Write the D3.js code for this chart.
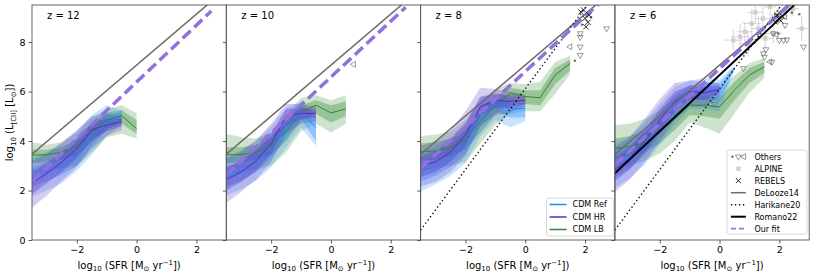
<!DOCTYPE html>
<html>
<head>
<meta charset="utf-8">
<script src="https://cdn.jsdelivr.net/npm/d3@7"></script>
<style>
  body { margin: 0; background: #fff; }
  text { font-family: "DejaVu Sans", sans-serif; fill: #000; }
</style>
</head>
<body>
<svg id="chart" width="830" height="277"></svg>
<script>
// Four-panel [CII]-SFR relation: simulations (bands + medians), literature fits and observations.

const redshifts = [12, 10, 8, 6];
const simNames = ['CDM Ref', 'CDM HR', 'CDM LB'];
const xTicks = [-2, 0, 2];
const yTicks = [0, 2, 4, 6, 8];

// rows: [log SFR, median, p16, p84, p5, p95]
const z12_ref = [[-3.5, 2.50, 2.15, 2.90, 1.75, 3.30], [-3.0, 2.75, 2.40, 3.15, 2.00, 3.55], [-2.5, 3.00, 2.65, 3.45, 2.30, 3.90], [-2.0, 3.40, 3.00, 3.95, 2.80, 4.40], [-1.5, 4.30, 3.80, 4.70, 3.45, 5.05], [-1.0, 4.75, 4.45, 5.05, 4.20, 5.45], [-0.5, 5.00, 4.80, 5.15, 4.65, 5.25]];
const z12_hr = [[-3.5, 2.30, 1.85, 2.75, 1.30, 3.20], [-3.0, 2.70, 2.30, 3.10, 1.80, 3.50], [-2.5, 3.15, 2.75, 3.55, 2.40, 3.95], [-2.0, 3.70, 3.30, 4.10, 2.95, 4.45], [-1.5, 4.45, 4.05, 4.75, 3.70, 5.00], [-1.0, 4.65, 4.40, 4.90, 4.20, 5.10], [-0.5, 4.78, 4.60, 4.90, 4.45, 5.00]];
const z12_lb = [[-3.5, 3.43, 3.10, 3.65, 2.70, 3.95], [-3.0, 3.45, 3.15, 3.65, 2.75, 3.85], [-2.5, 3.55, 3.25, 3.75, 2.90, 3.95], [-2.0, 3.80, 3.45, 4.05, 3.00, 4.35], [-1.5, 4.35, 3.95, 4.70, 3.55, 4.95], [-1.0, 4.85, 4.50, 5.15, 4.15, 5.30], [-0.5, 5.03, 4.70, 5.25, 4.30, 5.45], [0.0, 4.50, 4.30, 4.85, 4.10, 5.12]];

const z10_ref = [[-3.5, 2.55, 2.15, 2.95, 1.80, 3.35], [-3.0, 2.80, 2.40, 3.20, 2.05, 3.60], [-2.5, 3.15, 2.75, 3.60, 2.40, 4.00], [-2.0, 3.70, 3.30, 4.15, 2.95, 4.60], [-1.5, 4.50, 4.10, 4.95, 3.75, 5.35], [-1.0, 5.18, 4.90, 5.40, 4.55, 5.60], [-0.5, 4.55, 4.00, 5.00, 3.80, 5.10]];
const z10_hr = [[-3.5, 2.45, 2.00, 2.90, 1.50, 3.30], [-3.0, 2.75, 2.35, 3.20, 1.95, 3.60], [-2.5, 3.20, 2.80, 3.65, 2.45, 4.05], [-2.0, 3.90, 3.50, 4.30, 3.15, 4.70], [-1.5, 5.00, 4.60, 5.30, 4.30, 5.50], [-1.0, 5.12, 4.90, 5.35, 4.70, 5.50], [-0.5, 5.12, 4.95, 5.30, 4.80, 5.40]];
const z10_lb = [[-3.5, 3.45, 3.10, 3.75, 2.60, 4.30], [-3.0, 3.45, 3.15, 3.75, 2.70, 4.15], [-2.5, 3.55, 3.25, 3.85, 2.85, 4.10], [-2.0, 3.82, 3.45, 4.15, 3.00, 4.35], [-1.5, 4.40, 4.00, 4.75, 3.55, 5.00], [-1.0, 5.18, 4.80, 5.45, 4.40, 5.75], [-0.5, 5.45, 5.10, 5.65, 4.70, 5.85], [0.0, 5.14, 4.75, 5.45, 4.35, 5.65], [0.5, 5.30, 5.00, 5.60, 4.70, 5.85]];

const z8_ref = [[-3.5, 2.75, 2.35, 3.15, 1.95, 3.55], [-3.0, 3.00, 2.60, 3.40, 2.25, 3.80], [-2.5, 3.35, 2.95, 3.75, 2.60, 4.15], [-2.0, 3.90, 3.50, 4.35, 3.10, 4.75], [-1.5, 5.00, 4.60, 5.40, 4.20, 5.75], [-1.0, 5.50, 5.20, 5.75, 4.85, 5.95], [-0.5, 5.30, 4.95, 5.55, 4.55, 5.75], [0.0, 5.32, 4.95, 5.55, 4.80, 5.60]];
const z8_hr = [[-3.5, 3.00, 2.55, 3.40, 2.15, 3.80], [-3.0, 3.15, 2.75, 3.60, 2.35, 4.00], [-2.5, 3.55, 3.15, 4.00, 2.75, 4.45], [-2.0, 4.25, 3.80, 4.70, 3.40, 5.20], [-1.5, 5.40, 5.00, 5.80, 4.60, 6.15], [-1.0, 5.65, 5.35, 5.90, 5.05, 6.10], [-0.5, 5.60, 5.35, 5.85, 5.15, 6.00], [0.0, 5.65, 5.50, 5.80, 5.40, 5.90]];
const z8_lb = [[-3.5, 3.57, 3.20, 3.90, 2.80, 4.20], [-3.0, 3.60, 3.25, 3.95, 2.90, 4.25], [-2.5, 3.75, 3.40, 4.10, 3.00, 4.40], [-2.0, 4.05, 3.65, 4.45, 3.15, 4.85], [-1.5, 4.80, 4.35, 5.20, 3.90, 5.55], [-1.0, 5.45, 5.05, 5.80, 4.65, 6.10], [-0.5, 5.93, 5.55, 6.15, 5.10, 6.35], [0.0, 5.80, 5.50, 6.05, 5.20, 6.30], [0.5, 5.75, 5.45, 6.05, 5.20, 6.40], [1.0, 6.67, 6.30, 6.95, 5.90, 7.20], [1.5, 7.14, 6.85, 7.30, 6.70, 7.45]];

const z6_ref = [[-3.5, 3.00, 2.55, 3.45, 2.10, 3.90], [-3.0, 3.35, 2.90, 3.80, 2.50, 4.20], [-2.5, 3.90, 3.45, 4.35, 3.05, 4.75], [-2.0, 4.70, 4.25, 5.10, 3.85, 5.50], [-1.5, 5.45, 5.05, 5.85, 4.65, 6.20], [-1.0, 5.99, 5.65, 6.25, 5.30, 6.45], [-0.5, 6.06, 5.70, 6.35, 5.30, 6.55], [0.0, 6.06, 5.60, 6.35, 5.20, 6.50], [0.5, 6.94, 6.90, 7.00, 6.85, 7.05]];
const z6_hr = [[-3.5, 2.85, 2.40, 3.30, 1.95, 3.75], [-3.0, 3.30, 2.85, 3.75, 2.45, 4.15], [-2.5, 4.00, 3.55, 4.45, 3.15, 4.90], [-2.0, 4.85, 4.40, 5.30, 4.00, 5.70], [-1.5, 5.60, 5.20, 6.00, 4.85, 6.35], [-1.0, 6.00, 5.70, 6.25, 5.40, 6.45], [-0.5, 5.95, 5.65, 6.20, 5.40, 6.40], [0.0, 6.10, 5.95, 6.25, 5.80, 6.35]];
const z6_lb = [[-3.5, 3.70, 3.30, 4.10, 2.90, 4.65], [-3.0, 3.78, 3.40, 4.20, 3.00, 4.70], [-2.5, 3.95, 3.55, 4.40, 3.20, 4.90], [-2.0, 4.35, 3.90, 4.80, 3.50, 5.25], [-1.5, 4.90, 4.45, 5.35, 4.00, 5.75], [-1.0, 5.45, 5.05, 5.80, 4.75, 6.05], [-0.5, 5.45, 5.00, 5.80, 4.55, 6.05], [0.0, 5.38, 4.90, 5.75, 4.30, 6.05], [0.5, 6.06, 5.65, 6.40, 5.10, 6.65], [1.0, 6.67, 6.35, 6.95, 5.95, 7.15], [1.5, 7.00, 6.75, 7.20, 6.55, 7.35]];

// literature relations (end points)
const deLooze14 = [[-3.5, 3.465], [3.0, 10.16]];
const harikane20 = [[-3.5, 0.4], [2.2, 9.7]];
const romano22 = [[-3.5, 2.7], [2.5, 9.5]];
const fitZ12 = [[-3.5, 2.36], [2.5, 9.26]];
const fitZ10 = [[-3.5, 2.63], [2.5, 9.41]];
const fitZ8 = [[-3.5, 2.90], [2.5, 9.60]];
const fitZ6 = [[-3.5, 3.05], [2.5, 9.70]];

// observations
const rebelsZ8 = [[1.86, 9.22], [2.0, 8.96], [2.03, 8.62], [2.14, 9.09], [1.95, 9.30], [2.10, 8.80]];
const othersDotZ8 = [[1.66, 7.25], [2.20, 9.00], [1.90, 8.70]];
const othersDownZ8 = [[2.72, 8.55], [1.84, 8.35], [1.84, 8.20], [1.84, 7.81], [1.84, 7.47]];
const othersLeftZ8 = [[1.50, 7.81]];
const othersLeftZ10 = [[0.76, 7.10]];

// ALPINE rows: [x, y, xerr, yerr]
const alpineZ6 = [[0.46, 8.08, 0.3, 0.4], [0.69, 8.22, 0.3, 0.5], [0.85, 8.42, 0.25, 0.4], [1.08, 8.75, 0.3, 0.6], [1.30, 8.55, 0.25, 0.5], [1.53, 8.15, 0.3, 0.4], [1.69, 9.43, 0.2, 0.5], [1.80, 8.35, 0.3, 0.4], [1.97, 9.09, 0.25, 0.3], [2.20, 9.22, 0.3, 0.3], [2.75, 8.55, 0.2, 0.5], [1.45, 8.95, 0.3, 0.5], [0.95, 7.95, 0.3, 0.5], [2.45, 9.35, 0.2, 0.3], [1.20, 9.20, 0.25, 0.5]];
const rebelsZ6 = [[1.97, 8.96], [1.86, 8.82], [2.05, 8.86], [1.92, 9.10], [2.10, 9.05]];
const othersDotZ6 = [[2.42, 9.19], [2.67, 9.13], [1.97, 8.35]];
const othersDownZ6 = [[-0.17, 5.49], [0.80, 6.94], [1.47, 7.54], [1.50, 7.40], [1.75, 7.20], [2.14, 8.08], [2.00, 8.08], [2.25, 8.10], [1.80, 8.35], [2.81, 7.81], [2.19, 8.69], [1.55, 7.70]];
const othersLeftZ6 = [[1.69, 7.20], [2.19, 9.02], [1.90, 8.30]];

const simColors = ['#1f88ff', '#5b2cc0', '#2f882f'];
const fitColor = '#9370db';
const obsGrey = '#6e6e6e';

const panelData = {
  12: { sims: [z12_ref, z12_hr, z12_lb], fit: fitZ12 },
  10: { sims: [z10_ref, z10_hr, z10_lb], fit: fitZ10 },
  8: { sims: [z8_ref, z8_hr, z8_lb], fit: fitZ8 },
  6: { sims: [z6_ref, z6_hr, z6_lb], fit: fitZ6 },
};

const svg = d3.select('#chart');
const left0 = 32, top0 = 5, panelW = 194.3, panelH = 235;

const x = d3.scaleLinear().domain([-3.5, 3]).range([0, panelW]);
const y = d3.scaleLinear().domain([0, 9.5]).range([panelH, 0]);
const line = d3.line().x((d) => x(d[0])).y((d) => y(d[1]));
const band = (lo, hi) => d3.area().x((d) => x(d[0])).y0((d) => y(d[lo])).y1((d) => y(d[hi]));

// small marker helpers
const tri = d3.symbol().type(d3.symbolTriangle).size(15)();
function drawObs(g, pts, kind) {
  const sel = g.append('g').selectAll('path').data(pts).join('path')
    .attr('transform', (d) => {
      const rot = kind === 'down' ? 180 : kind === 'left' ? -90 : 0;
      return `translate(${x(d[0])},${y(d[1])}) rotate(${rot})`;
    });
  if (kind === 'dot') {
    sel.attr('d', d3.symbol().type(d3.symbolCircle).size(5)()).attr('fill', obsGrey);
  } else if (kind === 'cross') {
    sel.attr('d', 'M-2.6,-2.6L2.6,2.6M-2.6,2.6L2.6,-2.6').attr('stroke', '#111').attr('stroke-width', 0.9).attr('fill', 'none');
  } else {
    sel.attr('d', tri).attr('fill', 'none').attr('stroke', obsGrey).attr('stroke-width', 0.7);
  }
}

function subText(t, parts, size) {
  // parts: [text, 'sub'|'sup'|null]
  parts.forEach(([s, kind], i) => {
    const prev = i > 0 ? parts[i - 1][1] : null;
    let dy = 0;
    if (kind === 'sub') dy = size * 0.25;
    else if (kind === 'sup') dy = -size * 0.38;
    if (prev === 'sub') dy -= size * 0.25;
    else if (prev === 'sup') dy += size * 0.38;
    t.append('tspan')
      .attr('dy', dy)
      .style('font-size', kind ? `${size * 0.7}px` : `${size}px`)
      .text(s);
  });
}

redshifts.forEach((z, i) => {
  const ox = left0 + i * panelW;
  const g = svg.append('g').attr('transform', `translate(${ox},${top0})`);
  const { sims, fit } = panelData[z];

  g.append('clipPath').attr('id', `clip${i}`)
    .append('rect').attr('width', panelW).attr('height', panelH);
  const plot = g.append('g').attr('clip-path', `url(#clip${i})`);

  // bands: LB first, then Ref, then HR
  [2, 0, 1].forEach((s) => {
    plot.append('path').datum(sims[s]).attr('d', band(4, 5))
      .attr('fill', simColors[s]).attr('fill-opacity', 0.24);
    plot.append('path').datum(sims[s]).attr('d', band(2, 3))
      .attr('fill', simColors[s]).attr('fill-opacity', 0.34);
  });
  [2, 0, 1].forEach((s) => {
    plot.append('path').datum(sims[s]).attr('d', line)
      .attr('fill', 'none').attr('stroke', simColors[s]).attr('stroke-width', 1);
  });

  // ALPINE
  if (z === 6) {
    const a = plot.append('g');
    alpineZ6.forEach((d) => {
      a.append('line').attr('x1', x(d[0])).attr('x2', x(d[0]))
        .attr('y1', y(d[1] - d[3])).attr('y2', y(d[1] + d[3]))
        .attr('stroke', '#d4d4d4').attr('stroke-width', 1);
      a.append('line').attr('x1', x(d[0] - d[2])).attr('x2', x(d[0] + d[2]))
        .attr('y1', y(d[1])).attr('y2', y(d[1]))
        .attr('stroke', '#d4d4d4').attr('stroke-width', 1);
    });
    a.selectAll('rect').data(alpineZ6).join('rect')
      .attr('x', (d) => x(d[0]) - 2.2).attr('y', (d) => y(d[1]) - 2.2)
      .attr('width', 4.4).attr('height', 4.4).attr('fill', '#cfcfcf');
  }

  // literature relations
  plot.append('path').datum(deLooze14).attr('d', line)
    .attr('stroke', '#6b6b6b').attr('stroke-width', 1.5).attr('fill', 'none');
  if (z === 8 || z === 6) {
    plot.append('path').datum(harikane20).attr('d', line)
      .attr('stroke', '#111').attr('stroke-width', 1.4).attr('stroke-dasharray', '1.4,2.6').attr('fill', 'none');
  }
  if (z === 6) {
    plot.append('path').datum(romano22).attr('d', line)
      .attr('stroke', '#000').attr('stroke-width', 2).attr('fill', 'none');
  }
  plot.append('path').datum(fit).attr('d', line)
    .attr('stroke', fitColor).attr('stroke-width', 3.5).attr('stroke-dasharray', '11,5').attr('fill', 'none');

  // observations
  if (z === 10) drawObs(plot, othersLeftZ10, 'left');
  if (z === 8) {
    drawObs(plot, othersDownZ8, 'down');
    drawObs(plot, othersLeftZ8, 'left');
    drawObs(plot, othersDotZ8, 'dot');
    drawObs(plot, rebelsZ8, 'cross');
  }
  if (z === 6) {
    drawObs(plot, othersDownZ6, 'down');
    drawObs(plot, othersLeftZ6, 'left');
    drawObs(plot, othersDotZ6, 'dot');
    drawObs(plot, rebelsZ6, 'cross');
  }

  // frame
  g.append('rect').attr('width', panelW).attr('height', panelH)
    .attr('fill', 'none').attr('stroke', '#555').attr('stroke-width', 0.9);

  // axes
  const yAxis = d3.axisLeft(y).tickValues(yTicks).tickSize(3.5).tickPadding(3)
    .tickFormat(i === 0 ? d3.format('d') : () => '');
  g.append('g').call(yAxis).call((a) => {
    a.select('.domain').remove();
    a.selectAll('.tick line').attr('stroke', '#333').attr('stroke-width', 0.8);
    a.selectAll('.tick text').style('font-size', '9.5px').attr('font-family', null);
  });
  const xAxis = d3.axisBottom(x).tickValues(xTicks).tickSize(3.5).tickPadding(2.5).tickFormat(d3.format('d'));
  g.append('g').attr('transform', `translate(0,${panelH})`).call(xAxis).call((a) => {
    a.select('.domain').remove();
    a.selectAll('.tick line').attr('stroke', '#333').attr('stroke-width', 0.8);
    a.selectAll('.tick text').style('font-size', '9.5px').attr('font-family', null);
  });

  // panel label
  g.append('text').attr('x', 15).attr('y', 14).style('font-size', '10px').text(`z = ${z}`);

  // x label
  const xl = g.append('text').attr('x', panelW / 2).attr('y', 263.5).attr('text-anchor', 'middle');
  subText(xl, [['log', null], ['10', 'sub'], [' (SFR [M', null], ['⊙', 'sub'], [' yr', null], ['−1', 'sup'], ['])', null]], 10);
});

// y label
const yl = svg.append('text').attr('transform', `translate(13,${top0 + panelH / 2}) rotate(-90)`).attr('text-anchor', 'middle');
subText(yl, [['log', null], ['10', 'sub'], [' (L', null], ['[CII]', 'sub'], [' [L', null], ['⊙', 'sub'], ['])', null]], 10);

// legend, panel z = 8
const lg1 = svg.append('g').attr('transform', `translate(${left0 + 2 * panelW + 126},198)`);
lg1.append('rect').attr('width', 67).attr('height', 38).attr('rx', 2)
  .attr('fill', '#fff').attr('fill-opacity', 0.85).attr('stroke', '#cfcfcf').attr('stroke-width', 0.8);
simNames.forEach((name, k) => {
  const yy = 6.5 + k * 12.5;
  lg1.append('line').attr('x1', 3).attr('x2', 20).attr('y1', yy).attr('y2', yy)
    .attr('stroke', simColors[k]).attr('stroke-width', 1.5);
  lg1.append('text').attr('x', 26).attr('y', yy).attr('dy', '0.35em').style('font-size', '8px').text(name);
});

// legend, panel z = 6
const lg2 = svg.append('g').attr('transform', `translate(${left0 + 3 * panelW + 112},150)`);
lg2.append('rect').attr('width', 80).attr('height', 84).attr('rx', 2)
  .attr('fill', '#fff').attr('fill-opacity', 0.85).attr('stroke', '#cfcfcf').attr('stroke-width', 0.8);
const legendLabels = ['Others', 'ALPINE', 'REBELS', 'DeLooze14', 'Harikane20', 'Romano22', 'Our fit'];
legendLabels.forEach((name, k) => {
  const yy = 6.7 + k * 12;
  const h = lg2.append('g').attr('transform', `translate(0,${yy})`);
  if (k === 0) {
    h.append('circle').attr('cx', 5.5).attr('cy', 0).attr('r', 1.2).attr('fill', obsGrey);
    h.append('path').attr('d', tri).attr('transform', 'translate(11.5,0) rotate(180)')
      .attr('fill', 'none').attr('stroke', obsGrey).attr('stroke-width', 0.7);
    h.append('path').attr('d', tri).attr('transform', 'translate(17,0) rotate(-90)')
      .attr('fill', 'none').attr('stroke', obsGrey).attr('stroke-width', 0.7);
  } else if (k === 1) {
    h.append('rect').attr('x', 9.3).attr('y', -2.2).attr('width', 4.4).attr('height', 4.4).attr('fill', '#cfcfcf');
  } else if (k === 2) {
    h.append('path').attr('d', 'M9,-2.4L14,2.4M9,2.4L14,-2.4').attr('stroke', '#111').attr('stroke-width', 0.9);
  } else {
    const styles = [
      { c: '#6b6b6b', w: 1.5, d: null },
      { c: '#111', w: 1.4, d: '1.4,2.6' },
      { c: '#000', w: 2, d: null },
      { c: fitColor, w: 1.8, d: '5,3' },
    ][k - 3];
    h.append('line').attr('x1', 4).attr('x2', 19).attr('y1', 0).attr('y2', 0)
      .attr('stroke', styles.c).attr('stroke-width', styles.w).attr('stroke-dasharray', styles.d);
  }
  h.append('text').attr('x', 27.5).attr('y', 0).attr('dy', '0.35em').style('font-size', '8px').text(name);
});
</script>
</body>
</html>
